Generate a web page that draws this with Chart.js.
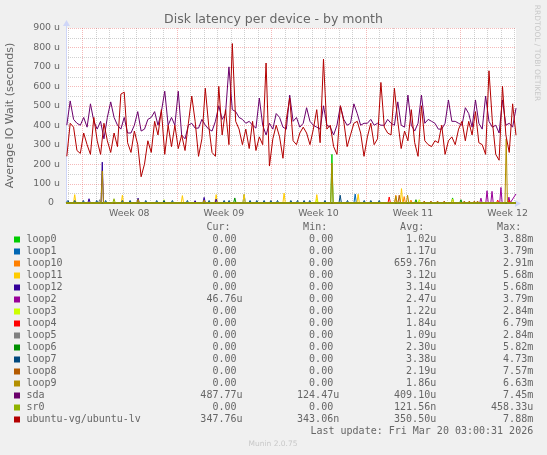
<!DOCTYPE html>
<html>
<head>
<meta charset="utf-8">
<title>Disk latency per device - by month</title>
<script src="https://cdn.jsdelivr.net/npm/chart.js@4.4.1/dist/chart.umd.min.js"></script>
<style>
    html, body { margin: 0; padding: 0; background: #f0f0f0; }
    #wrap { width: 547px; height: 455px; }
</style>
</head>
<body>
<div id="wrap"><canvas id="graficoDisk" width="547" height="455"></canvas></div>
<script>
// x = days since Mon 16 Feb 2026 00:00 (start of week 08), y = microseconds
var xMin = -1.185;
var xMax = 32.125;
var weekTicks = [3.5, 10.5, 17.5, 24.5, 31.5];
var weekLabels = ["Week 08", "Week 09", "Week 10", "Week 11", "Week 12"];
var yTickValues = [0, 100, 200, 300, 400, 500, 600, 700, 800, 900];
var yTickLabels = ["0  ", "100 u", "200 u", "300 u", "400 u", "500 u", "600 u", "700 u", "800 u", "900 u"];

// 6 hour samples starting at day -1.125
var sampleStart = -1.125;
var sampleStep = 0.25;

var sdaValues = [
    400, 525, 430, 410, 400, 440, 390, 510, 420, 380, 420, 330, 440, 520, 440, 400, 380, 440, 360, 360,
    400, 470, 370, 380, 430, 440, 470, 400, 470, 575, 400, 440, 400, 575, 350, 330, 400, 410, 385, 385,
    430, 400, 380, 370, 420, 500, 430, 460, 700, 480, 470, 440, 430, 410, 420, 400, 385, 540, 400, 350,
    410, 380, 460, 440, 390, 380, 555, 420, 440, 390, 410, 490, 420, 400, 390, 380, 500, 400, 390, 350,
    400, 500, 430, 400, 410, 510, 460, 400, 410, 410, 430, 400, 410, 400, 400, 430, 410, 400, 520, 400,
    390, 555, 400, 370, 410, 555, 410, 430, 420, 410, 380, 380, 410, 530, 420, 420, 410, 400, 490, 460,
    390, 530, 410, 380, 550, 420, 390, 400, 360, 530, 400, 410, 390, 488
];
var lvValues = [
    240, 410, 390, 270, 255, 360, 300, 250, 440, 320, 250, 410, 320, 260, 360, 290, 560, 570, 310, 260,
    370, 300, 135, 200, 320, 260, 420, 350, 480, 250, 400, 290, 400, 280, 350, 270, 410, 550, 420, 240,
    330, 590, 400, 260, 240, 600, 350, 480, 300, 820, 420, 380, 300, 380, 280, 420, 270, 340, 300, 720,
    190, 330, 400, 340, 230, 430, 540, 320, 300, 360, 390, 360, 300, 380, 480, 310, 740, 380, 400, 290,
    250, 500, 420, 290, 350, 410, 420, 360, 240, 340, 410, 300, 330, 620, 390, 360, 350, 590, 420, 280,
    370, 320, 480, 310, 240, 500, 320, 300, 290, 320, 310, 400, 250, 320, 340, 300, 380, 420, 320, 420,
    350, 470, 310, 300, 250, 680, 420, 250, 220, 600, 350, 260, 510, 348
];

// sparse series: [day, value]
var loop0Spikes = [[18.5, 250], [27.43, 26]];
var loop1Spikes = [[12.0, 43], [20.22, 46]];
var loop10Spikes = [[23.23, 40], [23.85, 33], [24.35, 15]];
var loop11Spikes = [[-0.54, 43], [2.99, 40], [7.43, 38], [9.93, 43], [12.0, 45], [14.96, 51], [17.38, 43], [20.44, 45], [23.65, 74], [27.43, 20]];
var loop12Spikes = [[0.52, 22], [1.5, 210], [4.15, 25], [8.37, 12], [9.04, 29], [9.93, 20]];
var loop2Spikes = [[29.53, 25], [29.98, 63], [30.35, 60], [31.01, 80], [31.6, 30]];
var loop3Spikes = [[6.07, 17], [17.38, 20], [24.96, 17]];
var loop4Spikes = [[22.74, 31], [30.77, 15], [31.63, 15]];
var loop5Spikes = [[1.31, 17]];
var loop6Spikes = [[11.31, 26], [24.72, 17], [28.05, 17]];
var loop7Spikes = [[-1.04, 13], [-0.54, 13], [0.1, 13], [1.09, 13], [1.75, 13], [2.99, 13], [3.56, 13], [4.72, 13],
    [5.53, 13], [6.07, 13], [6.69, 13], [7.8, 13], [9.41, 13], [10.52, 13], [10.89, 13], [12.44, 13], [12.94, 13],
    [13.48, 13], [13.98, 13], [14.47, 13], [15.46, 13], [15.95, 13], [16.44, 13], [16.86, 13], [17.98, 13],
    [19.11, 40], [19.65, 13], [20.89, 13], [21.38, 13], [22.0, 13]];
var loop8Spikes = [[23.48, 40], [25.33, 10], [25.83, 10], [26.32, 10], [26.81, 10], [28.3, 10], [28.67, 10], [29.04, 10], [29.28, 10]];
var loop9Spikes = [[1.5, 165], [4.15, 18], [9.04, 15], [18.5, 205], [23.23, 35], [24.1, 40], [31.4, 330]];
var sr0Spikes = [[2.37, 22]];

var seriesNames = ["loop0", "loop1", "loop10", "loop11", "loop12", "loop2", "loop3", "loop4", "loop5",
    "loop6", "loop7", "loop8", "loop9", "sda", "sr0", "ubuntu-vg/ubuntu-lv"];
var seriesColors = ["#00CC00", "#0066B3", "#FF8000", "#FFCC00", "#330099", "#990099", "#CCFF00", "#FF0000",
    "#808080", "#008F00", "#00487D", "#B35A00", "#B38F00", "#6B006B", "#8FB300", "#B30000"];
var curValues = ["0.00", "0.00", "0.00", "0.00", "0.00", "46.76u", "0.00", "0.00", "0.00", "0.00", "0.00", "0.00", "0.00", "487.77u", "0.00", "347.76u"];
var minValues = ["0.00", "0.00", "0.00", "0.00", "0.00", "0.00", "0.00", "0.00", "0.00", "0.00", "0.00", "0.00", "0.00", "124.47u", "0.00", "343.06n"];
var avgValues = ["1.02u", "1.17u", "659.76n", "3.12u", "3.14u", "2.47u", "1.22u", "1.84u", "1.09u", "2.30u", "3.38u", "2.19u", "1.86u", "409.10u", "121.56n", "350.50u"];
var maxValues = ["3.88m", "3.79m", "2.91m", "5.68m", "5.68m", "3.79m", "2.84m", "6.79m", "2.84m", "5.82m", "4.73m", "7.57m", "6.63m", "7.45m", "458.33u", "7.88m"];

function samplePoints(values) {
    return values.map(function (v, i) {
        return {x: sampleStart + i * sampleStep, y: v};
    });
}

function spikePoints(list, endValue) {
    var pts = [{x: xMin, y: 0}];
    list.forEach(function (s) {
        pts.push({x: s[0] - 0.09, y: 0}, {x: s[0], y: s[1]}, {x: s[0] + 0.09, y: 0});
    });
    pts.push({x: xMax, y: endValue || 0});
    return pts;
}

var seriesData = [
    spikePoints(loop0Spikes), spikePoints(loop1Spikes), spikePoints(loop10Spikes), spikePoints(loop11Spikes),
    spikePoints(loop12Spikes), spikePoints(loop2Spikes, 46.76), spikePoints(loop3Spikes), spikePoints(loop4Spikes),
    spikePoints(loop5Spikes), spikePoints(loop6Spikes), spikePoints(loop7Spikes), spikePoints(loop8Spikes),
    spikePoints(loop9Spikes), samplePoints(sdaValues), spikePoints(sr0Spikes), samplePoints(lvValues)
];

var fontColor = "#666666";
var axisColor = "#CFD6F8";

// munin / rrdtool look: grey back, white canvas, dotted grid, pale axis arrows, text legend
var rrdPlugin = {
    id: "rrdLook",
    beforeDraw: function (chart) {
        var ctx = chart.ctx, a = chart.chartArea;
        ctx.save();
        ctx.fillStyle = "#f0f0f0";
        ctx.fillRect(0, 0, chart.width, chart.height);
        ctx.fillStyle = "#ffffff";
        ctx.fillRect(a.left, a.top, a.right - a.left, a.bottom - a.top);
        ctx.restore();
    },
    beforeDatasetsDraw: function (chart) {
        var ctx = chart.ctx, a = chart.chartArea;
        var xs = chart.scales.x, ys = chart.scales.y;
        var d, v, px, py;
        ctx.save();
        ctx.lineWidth = 1;
        ctx.setLineDash([1, 1]);
        function vline(p) { ctx.beginPath(); ctx.moveTo(p, a.top); ctx.lineTo(p, a.bottom); ctx.stroke(); }
        function hline(p) { ctx.beginPath(); ctx.moveTo(a.left, p); ctx.lineTo(a.right, p); ctx.stroke(); }
        ctx.strokeStyle = "rgba(150,150,150,0.45)";
        for (d = Math.ceil(xMin); d <= xMax; d++) {
            if (d % 7 !== 0) vline(Math.round(xs.getPixelForValue(d)) + 0.5);
        }
        for (v = 50; v <= 900; v += 100) hline(Math.round(ys.getPixelForValue(v)) + 0.5);
        ctx.strokeStyle = "rgba(230,70,70,0.38)";
        for (d = 0; d <= xMax; d += 7) vline(Math.round(xs.getPixelForValue(d)) + 0.5);
        for (v = 100; v <= 900; v += 100) hline(Math.round(ys.getPixelForValue(v)) + 0.5);

        // axes with arrows
        ctx.setLineDash([]);
        ctx.strokeStyle = axisColor;
        ctx.fillStyle = axisColor;
        px = Math.round(xs.getPixelForValue(xMin)) + 0.5;
        py = Math.round(ys.getPixelForValue(0)) + 0.5;
        ctx.beginPath();
        ctx.moveTo(px, py); ctx.lineTo(px, a.top - 3);
        ctx.moveTo(px, py); ctx.lineTo(a.right + 1, py);
        ctx.stroke();
        ctx.beginPath();
        ctx.moveTo(px - 3.5, a.top - 2); ctx.lineTo(px + 3.5, a.top - 2); ctx.lineTo(px, a.top - 8);
        ctx.closePath(); ctx.fill();
        ctx.beginPath();
        ctx.moveTo(a.right - 1, py - 3.5); ctx.lineTo(a.right - 1, py + 3.5); ctx.lineTo(a.right + 5, py);
        ctx.closePath(); ctx.fill();
        ctx.restore();
    },
    afterDraw: function (chart) {
        var ctx = chart.ctx;
        var colRight = [242.5, 339.2, 436.2, 533.2];
        var columns = [curValues, minValues, avgValues, maxValues];
        var headers = ["Cur:", "Min:", "Avg:", "Max:"];
        var i, k, y, s;
        ctx.save();
        ctx.fillStyle = fontColor;
        ctx.textBaseline = "middle";
        ctx.textAlign = "center";
        ctx.font = '12.5px "DejaVu Sans"';
        ctx.fillText("Disk latency per device - by month", 273.5, 19.5);

        ctx.save();
        ctx.translate(536.7, 53);
        ctx.rotate(Math.PI / 2);
        ctx.fillStyle = "#c8c8c8";
        ctx.font = '7.5px "DejaVu Sans"';
        ctx.fillText("RRDTOOL / TOBI OETIKER", 0, 0);
        ctx.restore();

        ctx.font = '10px "DejaVu Sans Mono"';
        ctx.textAlign = "right";
        for (k = 0; k < headers.length; k++) {
            ctx.fillText(headers[k], colRight[k] - 12, 227.7);
        }
        for (i = 0; i < seriesNames.length; i++) {
            y = 239.5 + i * 12;
            ctx.fillStyle = seriesColors[i];
            ctx.fillRect(14, y - 3, 6, 6);
            ctx.fillStyle = fontColor;
            ctx.textAlign = "left";
            ctx.fillText(seriesNames[i], 26.5, y);
            ctx.textAlign = "right";
            for (k = 0; k < columns.length; k++) {
                s = columns[k][i];
                if (/[0-9]$/.test(s)) s += " ";
                ctx.fillText(s, colRight[k], y);
            }
        }
        ctx.fillText("Last update: Fri Mar 20 03:00:31 2026", 533.2, 431);

        ctx.textAlign = "center";
        ctx.fillStyle = "#c8c8c8";
        ctx.font = '7.5px "DejaVu Sans"';
        ctx.fillText("Munin 2.0.75", 273, 444.3);
        ctx.restore();
    }
};

window.onload = function () {
    var ctx = document.getElementById("graficoDisk");
    Chart.defaults.font.family = "DejaVu Sans";

    var datasets = seriesNames.map(function (name, i) {
        return {
            label: name,
            data: seriesData[i],
            borderColor: seriesColors[i],
            backgroundColor: seriesColors[i],
            borderWidth: 1,
            pointRadius: 0,
            tension: 0,
            fill: false,
            clip: 3,
            order: seriesNames.length - i
        };
    });

    var myLineChart = new Chart(ctx, {
        type: "line",
        data: {datasets: datasets},
        options: {
            responsive: false,
            animation: false,
            events: [],
            layout: {padding: {top: 28, right: 31, left: 0, bottom: 0}},
            plugins: {legend: {display: false}, tooltip: {enabled: false}, title: {display: false}},
            scales: {
                x: {
                    type: "linear",
                    min: xMin,
                    max: xMax,
                    afterFit: function (s) { s.height = 252; },
                    afterBuildTicks: function (s) {
                        s.ticks = weekTicks.map(function (v) { return {value: v}; });
                    },
                    ticks: {
                        autoSkip: false,
                        maxRotation: 0,
                        padding: 5,
                        color: fontColor,
                        font: {family: "DejaVu Sans", size: 9.4},
                        callback: function (value, index) { return weekLabels[index]; }
                    },
                    grid: {display: false, drawTicks: false},
                    border: {display: false}
                },
                y: {
                    min: 0,
                    max: 900,
                    afterFit: function (s) { s.width = 66; },
                    afterBuildTicks: function (s) {
                        s.ticks = yTickValues.map(function (v) { return {value: v}; });
                    },
                    ticks: {
                        padding: 6,
                        color: fontColor,
                        font: {family: "DejaVu Sans", size: 9.4},
                        callback: function (value, index) { return yTickLabels[index]; }
                    },
                    grid: {display: false, drawTicks: false},
                    border: {display: false},
                    title: {
                        display: true,
                        text: "Average IO Wait (seconds)",
                        color: fontColor,
                        font: {family: "DejaVu Sans", size: 11},
                        padding: {top: 4, bottom: 0}
                    }
                }
            }
        },
        plugins: [rrdPlugin]
    });
};
</script>
</body>
</html>
